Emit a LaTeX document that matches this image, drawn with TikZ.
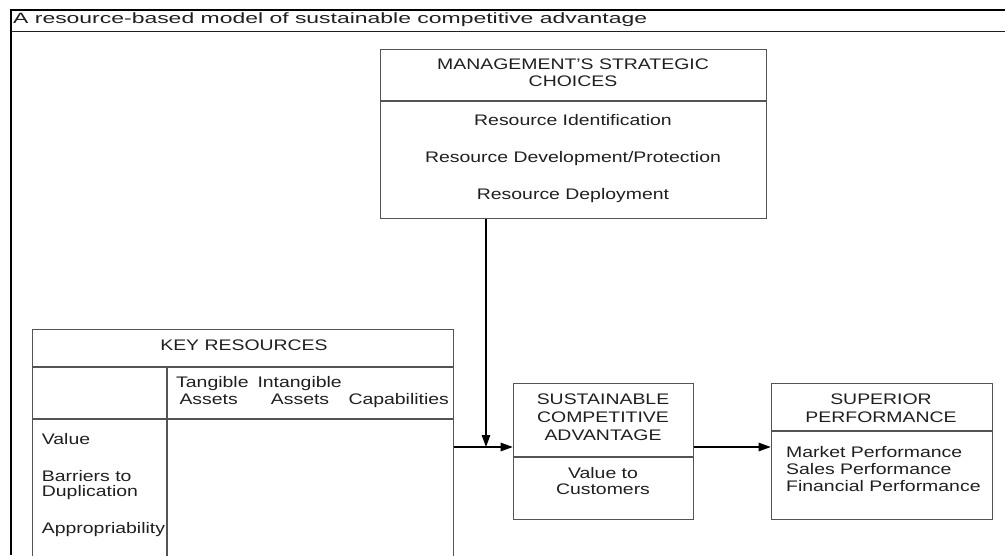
\documentclass[tikz,border=0pt]{standalone}
\usepackage{fontspec}
\setmainfont{Liberation Sans}
\newfontfamily\bodyfam{Liberation Sans}[FakeStretch=1.27]
\newfontfamily\titlefam{Liberation Sans}[FakeStretch=1.54]
\usetikzlibrary{arrows.meta}
\definecolor{boxgray}{gray}{0.33}
\definecolor{ink}{gray}{0.12}

\begin{document}
\begin{tikzpicture}[x=1pt,y=-1pt,
  box/.style={draw=boxgray, line width=1.3pt, rectangle, inner sep=0pt, anchor=north west},
  rule/.style={draw=boxgray, line width=1.3pt},
  lbl/.style={inner sep=0pt, anchor=base, text=ink,
    font=\bodyfam\fontsize{15.3}{18}\selectfont},
  lbll/.style={lbl, anchor=base west},
  flow/.style={draw=black, line width=1.1pt, -{Triangle[length=12pt,width=8.5pt]}},
]
\useasboundingbox (0,0) rectangle (1005,555);
\clip (0,0) rectangle (1005,555);

% outer frame and caption
\draw[line width=2.2pt] (10,10) -- (1005,10);
\draw[line width=1.8pt] (11,10) -- (11,555);
\draw[line width=1.1pt, draw=ink] (11,31.5) -- (1005,31.5);
\node[anchor=base west, inner sep=0pt, text=ink,
  font=\titlefam\fontsize{14.9}{18}\selectfont] (ttl) at (13,23.3)
  {A resource-based model of sustainable competitive advantage};

% management's strategic choices
\node[box, minimum width=386pt, minimum height=169pt] (msc) at (380,49) {};
\draw[rule] ([yshift=-52pt]msc.north west) -- ([yshift=-52pt]msc.north east);
\node[lbl] (msc1) at (573,69.3) {MANAGEMENT’S STRATEGIC};
\node[lbl] (msc2) at (573,86) {CHOICES};
\node[lbl] (msc3) at (573,125) {Resource Identification};
\node[lbl] (msc4) at (573,162.7) {Resource Development/Protection};
\node[lbl] (msc5) at (573,199.3) {Resource Deployment};

% key resources table (runs off the bottom edge)
\node[box, minimum width=421pt, minimum height=250pt] (kr) at (32,329) {};
\draw[rule] ([yshift=-38pt]kr.north west) -- ([yshift=-38pt]kr.north east);
\draw[rule] ([yshift=-90pt]kr.north west) -- ([yshift=-90pt]kr.north east);
\draw[rule] ([xshift=135pt,yshift=-38pt]kr.north west) -- ([xshift=135pt]kr.south west);
\node[lbl] (kr0) at (244,350) {KEY RESOURCES};
\node[lbll] (krt1) at (176,387.7) {Tangible};
\node[lbll] (kri1) at (257.3,387.7) {Intangible};
\node[lbll] (krt2) at (179.3,404) {Assets};
\node[lbll] (kri2) at (270.7,404) {Assets};
\node[lbll] (krc) at (348.3,404) {Capabilities};
\node[lbll] (krv) at (41.7,444.3) {Value};
\node[lbll] (krb1) at (41.7,481.7) {Barriers to};
\node[lbll] (krb2) at (41.7,496.7) {Duplication};
\node[lbll] (kra) at (41.7,533.3) {Appropriability};

% sustainable competitive advantage
\node[box, minimum width=180.3pt, minimum height=136.3pt] (sca) at (512.7,382.7) {};
\draw[rule] ([yshift=-74.3pt]sca.north west) -- ([yshift=-74.3pt]sca.north east);
\node[lbl] (sca1) at (603,404) {SUSTAINABLE};
\node[lbl] (sca2) at (603,422.3) {COMPETITIVE};
\node[lbl] (sca3) at (603,440) {ADVANTAGE};
\node[lbl] (sca4) at (603,478.3) {Value to};
\node[lbl] (sca5) at (603,494.3) {Customers};

% superior performance
\node[box, minimum width=221pt, minimum height=136.3pt] (sp) at (770.7,382.7) {};
\draw[rule] ([yshift=-48.3pt]sp.north west) -- ([yshift=-48.3pt]sp.north east);
\node[lbl] (sp1) at (881,404) {SUPERIOR};
\node[lbl] (sp2) at (881,422.3) {PERFORMANCE};
\node[lbll] (sp3) at (786,457.7) {Market Performance};
\node[lbll] (sp4) at (786,474.3) {Sales Performance};
\node[lbll] (sp5) at (786,491) {Financial Performance};

% connectors
\coordinate (join) at (486,447);
\draw[flow] (msc.south -| join) -- (join);
\draw[flow] (kr.east |- join) -- (sca.west |- join);
\draw[flow] (sca.east |- join) -- (sp.west |- join);
\end{tikzpicture}
\end{document}
